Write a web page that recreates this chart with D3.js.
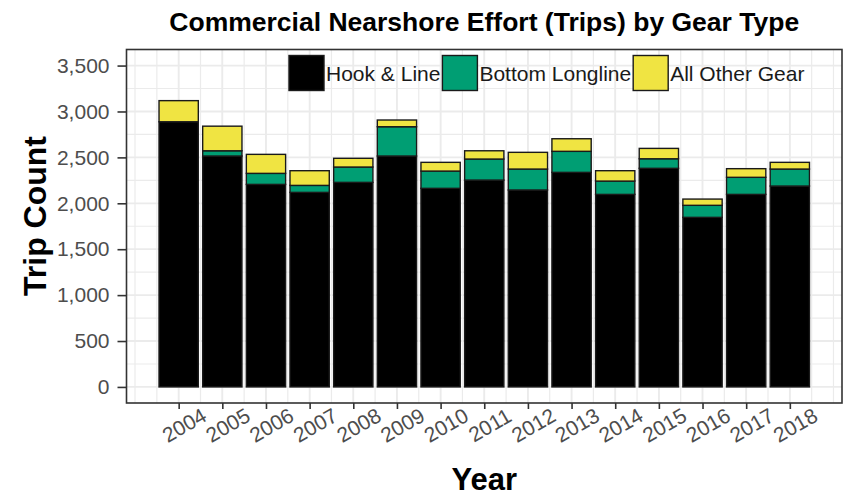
<!DOCTYPE html>
<html>
<head>
<meta charset="utf-8">
<script src="https://cdn.jsdelivr.net/npm/d3@7"></script>
<style>
  html, body { margin: 0; padding: 0; background: #fff; }
  svg { display: block; font-family: "Liberation Sans", Arial, sans-serif; }
</style>
</head>
<body>
<svg id="chart" width="844" height="497"></svg>
<script>
// ---- data ----
const years = [2004, 2005, 2006, 2007, 2008, 2009, 2010, 2011, 2012, 2013, 2014, 2015, 2016, 2017, 2018];
const hookLine       = [2888, 2515, 2206, 2119, 2228, 2515, 2163, 2253, 2145, 2337, 2097, 2381, 1847, 2097, 2188];
const bottomLongline = [0, 57, 120, 76, 167, 319, 188, 229, 228, 229, 145, 104, 131, 186, 185];
const otherGear      = [230, 268, 207, 160, 95, 73, 95, 90, 182, 137, 113, 113, 68, 94, 73];
const seriesNames = ["Hook & Line", "Bottom Longline", "All Other Gear"];
const seriesColors = ["#000000", "#009E73", "#F0E442"];
const yTicks = [0, 500, 1000, 1500, 2000, 2500, 3000, 3500];
const yMinorTicks = [250, 750, 1250, 1750, 2250, 2750, 3250];
const titleText = "Commercial Nearshore Effort (Trips) by Gear Type";
const xTitle = "Year";
const yTitle = "Trip Count";

// ---- layout ----
const panel = { left: 126.5, right: 842, top: 49.5, bottom: 403 };
const svg = d3.select("#chart");

const rows = years.map((yr, i) => ({
  year: yr,
  "Hook & Line": hookLine[i],
  "Bottom Longline": bottomLongline[i],
  "All Other Gear": otherGear[i]
}));
const stacked = d3.stack().keys(seriesNames)(rows);

const barWidthYears = 0.9;
const xMin = d3.min(years) - barWidthYears / 2, xMax = d3.max(years) + barWidthYears / 2;
const xPad = (xMax - xMin) * 0.05;
const x = d3.scaleLinear().domain([xMin - xPad, xMax + xPad]).range([panel.left, panel.right]);
const yPad = 3500 * 0.05;
const y = d3.scaleLinear().domain([-yPad, 3500 + yPad]).range([panel.bottom, panel.top]);

// panel background + grid
const grid = svg.append("g");
grid.append("rect").attr("x", panel.left).attr("y", panel.top)
  .attr("width", panel.right - panel.left).attr("height", panel.bottom - panel.top).attr("fill", "#fff");

const xMinor = d3.range(d3.min(years) - 1, d3.max(years) + 1.01, 0.5).filter(v => v >= x.domain()[0] && v <= x.domain()[1]);
grid.selectAll(".xminor").data(xMinor).join("line")
  .attr("x1", d => x(d)).attr("x2", d => x(d)).attr("y1", panel.top).attr("y2", panel.bottom)
  .attr("stroke", "#EBEBEB").attr("stroke-width", 1.2);
grid.selectAll(".yminor").data(yMinorTicks).join("line")
  .attr("y1", d => y(d)).attr("y2", d => y(d)).attr("x1", panel.left).attr("x2", panel.right)
  .attr("stroke", "#EBEBEB").attr("stroke-width", 1.2);
grid.selectAll(".xmajor").data(years).join("line")
  .attr("x1", d => x(d)).attr("x2", d => x(d)).attr("y1", panel.top).attr("y2", panel.bottom)
  .attr("stroke", "#EBEBEB").attr("stroke-width", 1.8);
grid.selectAll(".ymajor").data(yTicks).join("line")
  .attr("y1", d => y(d)).attr("y2", d => y(d)).attr("x1", panel.left).attr("x2", panel.right)
  .attr("stroke", "#EBEBEB").attr("stroke-width", 1.8);

// bars
const bw = x(barWidthYears) - x(0);
svg.append("g").selectAll("g").data(stacked).join("g")
  .attr("fill", (d, i) => seriesColors[i])
  .selectAll("rect").data(d => d.filter(s => s[1] - s[0] > 0)).join("rect")
  .attr("x", d => x(d.data.year) - bw / 2)
  .attr("width", bw)
  .attr("y", d => y(d[1]))
  .attr("height", d => y(d[0]) - y(d[1]))
  .attr("stroke", "#1a1a1a").attr("stroke-width", 1.4);

// legend (inside panel, transparent background)
const leg = svg.append("g").attr("font-size", 21);
let lx = 289;
const keySize = 35, legY = 55.5;
seriesNames.forEach((name, i) => {
  leg.append("rect").attr("x", lx).attr("y", legY).attr("width", keySize).attr("height", keySize)
    .attr("fill", seriesColors[i]).attr("stroke", "#1a1a1a").attr("stroke-width", 1.4);
  const t = leg.append("text").attr("x", lx + keySize + 2).attr("y", legY + keySize / 2)
    .attr("dominant-baseline", "central").attr("fill", "#1a1a1a").text(name);
  lx = lx + keySize + 2 + t.node().getComputedTextLength() + 2;
});

// panel border
svg.append("rect").attr("x", panel.left).attr("y", panel.top)
  .attr("width", panel.right - panel.left).attr("height", panel.bottom - panel.top)
  .attr("fill", "none").attr("stroke", "#333333").attr("stroke-width", 1.6);

// y axis
const yAxis = svg.append("g").attr("transform", `translate(${panel.left},0)`)
  .call(d3.axisLeft(y).tickValues(yTicks).tickFormat(d3.format(",")).tickSize(9).tickPadding(8));
yAxis.select(".domain").remove();
yAxis.selectAll(".tick line").attr("stroke", "#333333").attr("stroke-width", 1.6);
yAxis.selectAll(".tick text").attr("font-size", 21).attr("fill", "#4D4D4D")
  .attr("font-family", "Liberation Sans, Arial, sans-serif");

// x axis
const xAxis = svg.append("g").attr("transform", `translate(0,${panel.bottom})`)
  .call(d3.axisBottom(x).tickValues(years).tickFormat(d3.format("d")).tickSize(6));
xAxis.select(".domain").remove();
xAxis.selectAll(".tick line").attr("stroke", "#333333").attr("stroke-width", 1.6);
xAxis.selectAll(".tick text")
  .attr("font-size", 21).attr("fill", "#4D4D4D")
  .attr("font-family", "Liberation Sans, Arial, sans-serif")
  .attr("y", 0).attr("dy", null)
  .attr("text-anchor", "middle").attr("dominant-baseline", "central")
  .attr("transform", "translate(5,22) rotate(-30)");

// titles
svg.append("text").attr("x", (panel.left + panel.right) / 2).attr("y", 31)
  .attr("text-anchor", "middle").attr("font-size", 26.5).attr("font-weight", "bold").attr("fill", "#000")
  .text(titleText);
svg.append("text").attr("x", (panel.left + panel.right) / 2).attr("y", 490)
  .attr("text-anchor", "middle").attr("font-size", 31).attr("font-weight", "bold").attr("fill", "#000")
  .text(xTitle);
svg.append("text").attr("transform", "translate(46,216) rotate(-90)")
  .attr("text-anchor", "middle").attr("font-size", 32).attr("font-weight", "bold").attr("fill", "#000")
  .text(yTitle);
</script>
</body>
</html>
